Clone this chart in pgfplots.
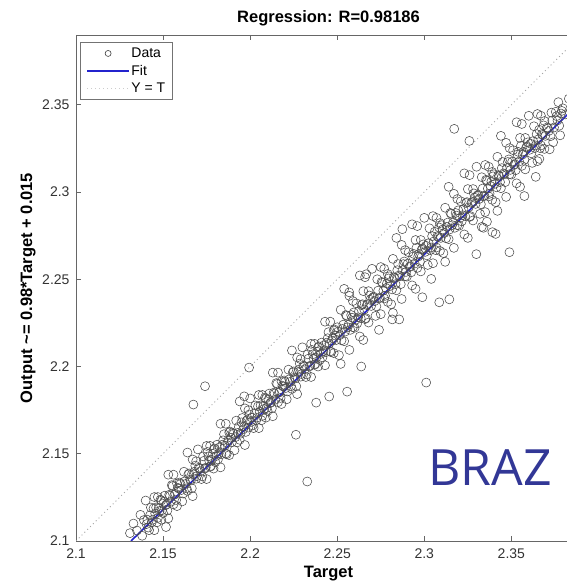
\documentclass[border=0pt]{standalone}
\usepackage{pgfplots}
\pgfplotsset{compat=1.18}
\usepackage{fontspec}
\setmainfont{Liberation Sans}
\newfontfamily\brazfont{Open Sans}
\definecolor{fitblue}{RGB}{35,35,205}
\definecolor{brazblue}{RGB}{50,55,150}
\begin{document}
\begin{tikzpicture}
\begin{axis}[
  at={(0pt,0pt)}, anchor=south west,
  scale only axis, width=505pt, height=506pt,
  xmin=2.1, xmax=2.39, ymin=2.1, ymax=2.39,
  xtick={2.1,2.15,2.2,2.25,2.3,2.35},
  xticklabels={2.1,2.15,2.2,2.25,2.3,2.35},
  ytick={2.1,2.15,2.2,2.25,2.3,2.35},
  yticklabels={2.1,2.15,2.2,2.25,2.3,2.35},
  tick align=inside, major tick length=5pt,
  tick style={black!60, line width=0.6pt},
  axis line style={black!60, line width=0.8pt},
  ticklabel style={font=\fontsize{14}{14}\selectfont, text=black!80},
  xticklabel style={yshift=-4pt},
  yticklabel style={xshift=-3pt},
  /pgf/number format/assume math mode=true,
  title={Regression: R=0.98186},
  title style={font=\fontsize{16.5}{17}\selectfont\bfseries, at={(axis description cs:0.5,1)}, anchor=center, yshift=11pt},
  xlabel={Target},
  xlabel style={font=\fontsize{16.5}{17}\selectfont\bfseries, at={(axis description cs:0.5,0)}, anchor=center, yshift=-33pt},
  ylabel={Output \textasciitilde= 0.98*Target + 0.015},
  ylabel style={font=\fontsize{16.5}{17}\selectfont\bfseries, at={(axis description cs:-0.095,0.5)}, anchor=center},
  legend cell align=left,
  legend style={at={(axis description cs:0.008,0.986)}, anchor=north west,
    draw=black!55, fill=white, line width=0.6pt,
    font=\fontsize{14}{14}\selectfont,
    inner xsep=6pt, inner ysep=4pt, row sep=3pt,
    nodes={inner sep=1.5pt}},
  clip=true,
]
\addplot[only marks, mark=o, mark size=4.5pt, black!70, mark options={line width=0.55pt},
  legend image code/.code={\draw[black!75, line width=0.6pt] (21pt,0pt) circle (3pt);}]
table[row sep=\\] {
x y\\
2.131 2.1045\\ 2.133 2.1100\\ 2.135 2.1060\\ 2.137 2.1150\\ 2.138 2.1030\\ 2.139 2.1120\\
2.141 2.1122\\ 2.142 2.1062\\ 2.143 2.1192\\ 2.144 2.1122\\ 2.145 2.1252\\ 2.145 2.1062\\ 2.146 2.1192\\
2.147 2.1132\\ 2.147 2.1252\\ 2.148 2.1172\\ 2.149 2.1122\\ 2.149 2.1232\\ 2.140 2.1232\\
2.150 2.1160\\ 2.151 2.1260\\ 2.152 2.1210\\ 2.153 2.1130\\ 2.154 2.1260\\ 2.155 2.1320\\ 2.156 2.1210\\
2.156 2.1380\\ 2.157 2.1270\\ 2.158 2.1200\\ 2.158 2.1330\\ 2.159 2.1300\\ 2.153 2.1380\\ 2.1517 2.1080\\
2.160 2.1327\\ 2.161 2.1227\\ 2.162 2.1397\\ 2.163 2.1327\\ 2.164 2.1287\\ 2.165 2.1387\\ 2.166 2.1347\\
2.167 2.1467\\ 2.167 2.1257\\ 2.168 2.1397\\ 2.169 2.1357\\ 2.169 2.1457\\ 2.164 2.1507\\
2.171 2.1415\\ 2.172 2.1355\\ 2.173 2.1485\\ 2.174 2.1415\\ 2.175 2.1545\\ 2.175 2.1355\\ 2.176 2.1485\\
2.177 2.1425\\ 2.177 2.1545\\ 2.178 2.1465\\ 2.179 2.1415\\ 2.179 2.1525\\ 2.170 2.1525\\
2.180 2.1452\\ 2.181 2.1552\\ 2.182 2.1502\\ 2.183 2.1422\\ 2.184 2.1552\\ 2.185 2.1612\\ 2.186 2.1502\\
2.186 2.1672\\ 2.187 2.1562\\ 2.188 2.1492\\ 2.188 2.1622\\ 2.189 2.1592\\ 2.183 2.1672\\
2.190 2.1620\\ 2.191 2.1520\\ 2.192 2.1690\\ 2.193 2.1620\\ 2.194 2.1580\\ 2.195 2.1680\\ 2.196 2.1640\\
2.197 2.1760\\ 2.197 2.1550\\ 2.198 2.1690\\ 2.199 2.1650\\ 2.199 2.1750\\ 2.194 2.1800\\
2.201 2.1707\\ 2.202 2.1647\\ 2.203 2.1777\\ 2.204 2.1707\\ 2.205 2.1837\\ 2.205 2.1647\\ 2.206 2.1777\\
2.207 2.1717\\ 2.207 2.1837\\ 2.208 2.1757\\ 2.209 2.1707\\ 2.209 2.1817\\ 2.200 2.1817\\
2.210 2.1745\\ 2.211 2.1845\\ 2.212 2.1795\\ 2.213 2.1715\\ 2.214 2.1845\\ 2.215 2.1905\\ 2.216 2.1795\\
2.216 2.1965\\ 2.217 2.1855\\ 2.218 2.1785\\ 2.218 2.1915\\ 2.219 2.1885\\ 2.213 2.1965\\
2.220 2.1912\\ 2.221 2.1812\\ 2.222 2.1982\\ 2.223 2.1912\\ 2.224 2.1872\\ 2.225 2.1972\\ 2.226 2.1932\\
2.227 2.2052\\ 2.227 2.1842\\ 2.228 2.1982\\ 2.229 2.1942\\ 2.229 2.2042\\ 2.224 2.2092\\
2.231 2.2000\\ 2.232 2.1940\\ 2.233 2.2070\\ 2.234 2.2000\\ 2.235 2.2130\\ 2.235 2.1940\\ 2.236 2.2070\\
2.237 2.2010\\ 2.237 2.2130\\ 2.238 2.2050\\ 2.239 2.2000\\ 2.239 2.2110\\ 2.230 2.2110\\
2.240 2.2037\\ 2.241 2.2137\\ 2.242 2.2087\\ 2.243 2.2007\\ 2.244 2.2137\\ 2.245 2.2197\\ 2.246 2.2087\\
2.246 2.2257\\ 2.247 2.2147\\ 2.248 2.2077\\ 2.248 2.2207\\ 2.249 2.2177\\ 2.243 2.2257\\
2.250 2.2225\\ 2.251 2.2065\\ 2.252 2.2325\\ 2.253 2.2215\\ 2.254 2.2145\\ 2.255 2.2295\\ 2.256 2.2225\\
2.257 2.2405\\ 2.257 2.2095\\ 2.258 2.2295\\ 2.259 2.2225\\ 2.259 2.2375\\ 2.254 2.2445\\ 2.252 2.2015\\
2.260 2.2222\\ 2.261 2.2362\\ 2.262 2.2282\\ 2.263 2.2172\\ 2.264 2.2352\\ 2.265 2.2432\\ 2.266 2.2272\\
2.266 2.2512\\ 2.267 2.2352\\ 2.268 2.2252\\ 2.268 2.2432\\ 2.269 2.2382\\ 2.263 2.2522\\ 2.265 2.2152\\
2.271 2.2400\\ 2.272 2.2290\\ 2.273 2.2500\\ 2.274 2.2390\\ 2.275 2.2570\\ 2.275 2.2300\\ 2.276 2.2480\\
2.277 2.2390\\ 2.277 2.2560\\ 2.278 2.2450\\ 2.279 2.2370\\ 2.279 2.2530\\ 2.270 2.2560\\ 2.274 2.2210\\
2.280 2.2517\\ 2.281 2.2357\\ 2.282 2.2617\\ 2.283 2.2507\\ 2.284 2.2437\\ 2.285 2.2587\\ 2.286 2.2517\\
2.287 2.2697\\ 2.287 2.2387\\ 2.288 2.2587\\ 2.289 2.2517\\ 2.289 2.2667\\ 2.284 2.2737\\ 2.282 2.2307\\
2.290 2.2515\\ 2.291 2.2655\\ 2.292 2.2575\\ 2.293 2.2465\\ 2.294 2.2645\\ 2.295 2.2725\\ 2.296 2.2565\\
2.296 2.2805\\ 2.297 2.2645\\ 2.298 2.2545\\ 2.298 2.2725\\ 2.299 2.2675\\ 2.293 2.2815\\ 2.295 2.2445\\
2.301 2.2692\\ 2.302 2.2582\\ 2.303 2.2792\\ 2.304 2.2682\\ 2.305 2.2862\\ 2.305 2.2592\\ 2.306 2.2772\\
2.307 2.2682\\ 2.307 2.2852\\ 2.308 2.2742\\ 2.309 2.2662\\ 2.309 2.2822\\ 2.300 2.2852\\ 2.304 2.2502\\
2.310 2.2810\\ 2.311 2.2650\\ 2.312 2.2910\\ 2.313 2.2800\\ 2.314 2.2730\\ 2.315 2.2880\\ 2.316 2.2810\\
2.317 2.2990\\ 2.317 2.2680\\ 2.318 2.2880\\ 2.319 2.2810\\ 2.319 2.2960\\ 2.314 2.3030\\ 2.312 2.2600\\
2.320 2.2807\\ 2.321 2.2947\\ 2.322 2.2867\\ 2.323 2.2757\\ 2.324 2.2937\\ 2.325 2.3017\\ 2.326 2.2857\\
2.326 2.3097\\ 2.327 2.2937\\ 2.328 2.2837\\ 2.328 2.3017\\ 2.329 2.2967\\ 2.323 2.3107\\ 2.325 2.2737\\
2.331 2.2985\\ 2.332 2.2875\\ 2.333 2.3085\\ 2.334 2.2975\\ 2.335 2.3155\\ 2.335 2.2885\\ 2.336 2.3065\\
2.337 2.2975\\ 2.337 2.3145\\ 2.338 2.3035\\ 2.339 2.2955\\ 2.339 2.3115\\ 2.330 2.3145\\ 2.334 2.2795\\
2.340 2.3102\\ 2.341 2.2942\\ 2.342 2.3202\\ 2.343 2.3092\\ 2.344 2.3022\\ 2.345 2.3172\\ 2.346 2.3102\\
2.347 2.3282\\ 2.347 2.2972\\ 2.348 2.3172\\ 2.349 2.3102\\ 2.349 2.3252\\ 2.344 2.3322\\ 2.342 2.2892\\
2.350 2.3100\\ 2.351 2.3240\\ 2.352 2.3160\\ 2.353 2.3050\\ 2.354 2.3230\\ 2.355 2.3310\\ 2.356 2.3150\\
2.356 2.3390\\ 2.357 2.3230\\ 2.358 2.3130\\ 2.358 2.3310\\ 2.359 2.3260\\ 2.353 2.3400\\ 2.355 2.3030\\
2.361 2.3277\\ 2.362 2.3167\\ 2.363 2.3377\\ 2.364 2.3267\\ 2.365 2.3447\\ 2.365 2.3177\\ 2.366 2.3357\\
2.367 2.3267\\ 2.367 2.3437\\ 2.368 2.3327\\ 2.369 2.3247\\ 2.369 2.3407\\ 2.360 2.3437\\ 2.364 2.3087\\
2.371 2.3365\\ 2.373 2.3455\\ 2.374 2.3285\\ 2.376 2.3435\\ 2.377 2.3515\\ 2.378 2.3325\\ 2.379 2.3465\\ 2.372 2.3245\\
2.381 2.3445\\ 2.383 2.3535\\ 2.385 2.3385\\ 2.387 2.3565\\
2.1674 2.1782\\ 2.1741 2.1887\\ 2.1994 2.1994\\ 2.1966 2.1829\\ 2.2263 2.1609\\ 2.2328 2.1341\\
2.3011 2.1908\\ 2.3086 2.2368\\ 2.2989 2.2397\\ 2.2816 2.2270\\ 2.2856 2.2270\\ 2.2557 2.1856\\
2.2638 2.2000\\ 2.2454 2.1828\\ 2.2379 2.1793\\ 2.2569 2.2425\\ 2.2667 2.2529\\
2.3172 2.3362\\ 2.3259 2.3293\\ 2.3489 2.2655\\ 2.3299 2.2644\\ 2.3144 2.2385\\ 2.3391 2.2770\\
2.2874 2.2787\\ 2.3661 2.3190\\ 2.3575 2.2977\\ 2.3360 2.2830\\ 2.3410 2.2760\\ 2.3330 2.2800\\
2.1405 2.1097\\ 2.1415 2.1077\\ 2.1425 2.1147\\ 2.1435 2.1107\\ 2.1445 2.1187\\ 2.1455 2.1157\\ 2.1465 2.1107\\ 2.1475 2.1187\\ 2.1485 2.1237\\ 2.1495 2.1177\\
2.1505 2.1225\\ 2.1515 2.1205\\ 2.1525 2.1175\\ 2.1535 2.1265\\ 2.1545 2.1225\\ 2.1555 2.1315\\ 2.1565 2.1265\\ 2.1575 2.1235\\ 2.1585 2.1305\\ 2.1595 2.1335\\
2.1605 2.1292\\ 2.1615 2.1272\\ 2.1625 2.1342\\ 2.1635 2.1302\\ 2.1645 2.1382\\ 2.1655 2.1352\\ 2.1665 2.1302\\ 2.1675 2.1382\\ 2.1685 2.1432\\ 2.1695 2.1372\\
2.1705 2.1420\\ 2.1715 2.1400\\ 2.1725 2.1370\\ 2.1735 2.1460\\ 2.1745 2.1420\\ 2.1755 2.1510\\ 2.1765 2.1460\\ 2.1775 2.1430\\ 2.1785 2.1500\\ 2.1795 2.1530\\
2.1805 2.1487\\ 2.1815 2.1467\\ 2.1825 2.1537\\ 2.1835 2.1497\\ 2.1845 2.1577\\ 2.1855 2.1547\\ 2.1865 2.1497\\ 2.1875 2.1577\\ 2.1885 2.1627\\ 2.1895 2.1567\\
2.1905 2.1615\\ 2.1915 2.1595\\ 2.1925 2.1565\\ 2.1935 2.1655\\ 2.1945 2.1615\\ 2.1955 2.1705\\ 2.1965 2.1655\\ 2.1975 2.1625\\ 2.1985 2.1695\\ 2.1995 2.1725\\
2.2005 2.1682\\ 2.2015 2.1662\\ 2.2025 2.1732\\ 2.2035 2.1692\\ 2.2045 2.1772\\ 2.2055 2.1742\\ 2.2065 2.1692\\ 2.2075 2.1772\\ 2.2085 2.1822\\ 2.2095 2.1762\\
2.2105 2.1810\\ 2.2115 2.1790\\ 2.2125 2.1760\\ 2.2135 2.1850\\ 2.2145 2.1810\\ 2.2155 2.1900\\ 2.2165 2.1850\\ 2.2175 2.1820\\ 2.2185 2.1890\\ 2.2195 2.1920\\
2.2205 2.1877\\ 2.2215 2.1857\\ 2.2225 2.1927\\ 2.2235 2.1887\\ 2.2245 2.1967\\ 2.2255 2.1937\\ 2.2265 2.1887\\ 2.2275 2.1967\\ 2.2285 2.2017\\ 2.2295 2.1957\\
2.2305 2.2005\\ 2.2315 2.1985\\ 2.2325 2.1955\\ 2.2335 2.2045\\ 2.2345 2.2005\\ 2.2355 2.2095\\ 2.2365 2.2045\\ 2.2375 2.2015\\ 2.2385 2.2085\\ 2.2395 2.2115\\
2.2405 2.2072\\ 2.2415 2.2052\\ 2.2425 2.2122\\ 2.2435 2.2082\\ 2.2445 2.2162\\ 2.2455 2.2132\\ 2.2465 2.2082\\ 2.2475 2.2162\\ 2.2485 2.2212\\ 2.2495 2.2152\\
2.2505 2.2200\\ 2.2515 2.2180\\ 2.2525 2.2150\\ 2.2535 2.2240\\ 2.2545 2.2200\\ 2.2555 2.2290\\ 2.2565 2.2240\\ 2.2575 2.2210\\ 2.2585 2.2280\\ 2.2595 2.2310\\
2.2605 2.2267\\ 2.2615 2.2247\\ 2.2625 2.2317\\ 2.2635 2.2277\\ 2.2645 2.2357\\ 2.2655 2.2327\\ 2.2665 2.2277\\ 2.2675 2.2357\\ 2.2685 2.2407\\ 2.2695 2.2347\\
2.2705 2.2395\\ 2.2715 2.2375\\ 2.2725 2.2345\\ 2.2735 2.2435\\ 2.2745 2.2395\\ 2.2755 2.2485\\ 2.2765 2.2435\\ 2.2775 2.2405\\ 2.2785 2.2475\\ 2.2795 2.2505\\
2.2805 2.2462\\ 2.2815 2.2442\\ 2.2825 2.2512\\ 2.2835 2.2472\\ 2.2845 2.2552\\ 2.2855 2.2522\\ 2.2865 2.2472\\ 2.2875 2.2552\\ 2.2885 2.2602\\ 2.2895 2.2542\\
2.2905 2.2590\\ 2.2915 2.2570\\ 2.2925 2.2540\\ 2.2935 2.2630\\ 2.2945 2.2590\\ 2.2955 2.2680\\ 2.2965 2.2630\\ 2.2975 2.2600\\ 2.2985 2.2670\\ 2.2995 2.2700\\
2.3005 2.2657\\ 2.3015 2.2637\\ 2.3025 2.2707\\ 2.3035 2.2667\\ 2.3045 2.2747\\ 2.3055 2.2717\\ 2.3065 2.2667\\ 2.3075 2.2747\\ 2.3085 2.2797\\ 2.3095 2.2737\\
2.3105 2.2785\\ 2.3115 2.2765\\ 2.3125 2.2735\\ 2.3135 2.2825\\ 2.3145 2.2785\\ 2.3155 2.2875\\ 2.3165 2.2825\\ 2.3175 2.2795\\ 2.3185 2.2865\\ 2.3195 2.2895\\
2.3205 2.2852\\ 2.3215 2.2832\\ 2.3225 2.2902\\ 2.3235 2.2862\\ 2.3245 2.2942\\ 2.3255 2.2912\\ 2.3265 2.2862\\ 2.3275 2.2942\\ 2.3285 2.2992\\ 2.3295 2.2932\\
2.3305 2.2980\\ 2.3315 2.2960\\ 2.3325 2.2930\\ 2.3335 2.3020\\ 2.3345 2.2980\\ 2.3355 2.3070\\ 2.3365 2.3020\\ 2.3375 2.2990\\ 2.3385 2.3060\\ 2.3395 2.3090\\
2.3405 2.3047\\ 2.3415 2.3027\\ 2.3425 2.3097\\ 2.3435 2.3057\\ 2.3445 2.3137\\ 2.3455 2.3107\\ 2.3465 2.3057\\ 2.3475 2.3137\\ 2.3485 2.3187\\ 2.3495 2.3127\\
2.3505 2.3175\\ 2.3515 2.3155\\ 2.3525 2.3125\\ 2.3535 2.3215\\ 2.3545 2.3175\\ 2.3555 2.3265\\ 2.3565 2.3215\\ 2.3575 2.3185\\ 2.3585 2.3255\\ 2.3595 2.3285\\
2.3605 2.3242\\ 2.3615 2.3222\\ 2.3625 2.3292\\ 2.3635 2.3252\\ 2.3645 2.3332\\ 2.3655 2.3302\\ 2.3665 2.3252\\ 2.3675 2.3332\\ 2.3685 2.3382\\ 2.3695 2.3322\\
2.3705 2.3370\\ 2.3715 2.3350\\ 2.3725 2.3320\\ 2.3735 2.3410\\ 2.3745 2.3370\\ 2.3755 2.3460\\ 2.3765 2.3410\\ 2.3775 2.3380\\ 2.3785 2.3450\\ 2.3795 2.3480\\
};
\addlegendentry{Data}
\addplot[fitblue, line width=1.6pt,
  legend image code/.code={\draw[fitblue, line width=1.6pt] (0pt,0pt) -- (42pt,0pt);}]
table[row sep=\\] {
x y\\
2.1316 2.1000\\
2.3900 2.3520\\
};
\addlegendentry{Fit}
\addplot[black!35, line width=0.9pt, dash pattern=on 1pt off 3pt,
  legend image code/.code={\draw[black!20, line width=0.6pt, dash pattern=on 1pt off 3pt] (0pt,0pt) -- (42pt,0pt);}]
table[row sep=\\] {
x y\\
2.10 2.10\\
2.39 2.39\\
};
\addlegendentry{Y = T}
\node[anchor=base west, inner sep=0pt, text=brazblue, font=\fontsize{50}{50}\brazfont]
  at (rel axis cs:0.697,0.109) {BRAZ};
\end{axis}
\pgfresetboundingbox
\path[use as bounding box] (-76pt,-45pt) rectangle (491pt,541pt);
\end{tikzpicture}
\end{document}
